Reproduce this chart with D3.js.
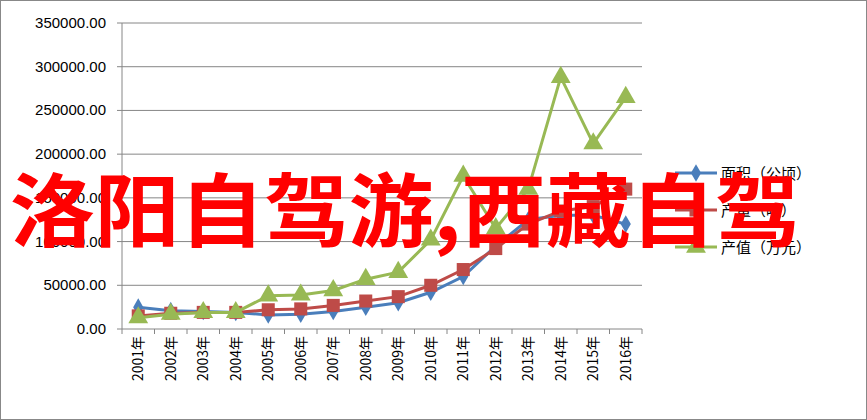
<!DOCTYPE html><html><head><meta charset="utf-8"><script src="https://cdn.jsdelivr.net/npm/d3@7"></script>
<style>body{margin:0;background:#fff}</style></head><body><svg id="c" width="867" height="420"></svg><script>
const years=["2001年","2002年","2003年","2004年","2005年","2006年","2007年","2008年","2009年","2010年","2011年","2012年","2013年","2014年","2015年","2016年"];
const area=[25000,21000,20000,19000,16000,17000,20000,25000,30000,42000,60000,95000,125000,130000,130000,120000];
const output=[15000,18000,19000,19000,22000,23000,27000,32000,37000,50000,68000,92000,120000,135000,140000,160000];
const value=[13000,17000,19000,19000,38000,39000,44000,57000,65000,102000,175000,115000,160000,288000,212000,265000];
const names=["面积（公顷）","产量（吨）","产值（万元）"];
const colors=["#4a7ebb","#be4b48","#98b954"];
const yTicks=[0,50000,100000,150000,200000,250000,300000,350000];
const svg=d3.select("#c");
svg.append("rect").attr("x",0.5).attr("y",0.5).attr("width",866).attr("height",419).attr("fill","none").attr("stroke","#888");
const x=d3.scaleBand().domain(years).range([122,642]);
const y=d3.scaleLinear().domain([0,350000]).range([329,23]);
const g=svg.append("g");
yTicks.forEach(t=>{g.append("line").attr("x1",117).attr("x2",642).attr("y1",y(t)).attr("y2",y(t)).attr("stroke","#868686");
g.append("text").attr("x",106).attr("y",y(t)+5).attr("text-anchor","end").attr("font-family","Liberation Sans, Arial").attr("font-size",15).text(t.toFixed(2));});
g.append("line").attr("x1",122).attr("x2",122).attr("y1",23).attr("y2",329).attr("stroke","#868686");
years.forEach((d,i)=>{const xx=x(d);g.append("line").attr("x1",xx).attr("x2",xx).attr("y1",329).attr("y2",334).attr("stroke","#868686");
g.append("text").attr("transform",`translate(${xx+x.bandwidth()/2+5},336) rotate(-90)`).attr("text-anchor","end").attr("font-family","Noto Sans CJK SC, sans-serif").attr("font-size",14).text(d);});
g.append("line").attr("x1",642).attr("x2",642).attr("y1",329).attr("y2",334).attr("stroke","#868686");
const cx=d=>x(d)+x.bandwidth()/2;
const line=d3.line().x((v,i)=>cx(years[i])).y(v=>y(v));
[area,output,value].forEach((s,k)=>{
svg.append("path").attr("d",line(s)).attr("fill","none").attr("stroke",colors[k]).attr("stroke-width",3);
const sym=[d3.symbolDiamond,d3.symbolSquare,d3.symbolTriangle][k];
svg.selectAll(null).data(s).enter().append("path").attr("d",d3.symbol(sym,k==0?90:170)).attr("transform",(v,i)=>`translate(${cx(years[i])},${y(v)})`).attr("fill",colors[k]);
});
names.forEach((n,k)=>{const ly=173+k*37;
svg.append("line").attr("x1",675).attr("x2",717).attr("y1",ly).attr("y2",ly).attr("stroke",colors[k]).attr("stroke-width",3);
svg.append("path").attr("d",d3.symbol([d3.symbolDiamond,d3.symbolSquare,d3.symbolTriangle][k],k==0?90:170)).attr("transform",`translate(696,${ly})`).attr("fill",colors[k]);
svg.append("text").attr("x",721).attr("y",ly+6).attr("font-family","Noto Sans CJK SC, sans-serif").attr("font-size",15).text(n);});
svg.append("text").attr("x",10).attr("y",240).attr("font-family","Noto Sans CJK SC, sans-serif").attr("font-weight","bold").attr("font-size",80).attr("fill","#ff0000").attr("textLength",790).attr("lengthAdjust","spacingAndGlyphs").text("洛阳自驾游,西藏自驾");
</script></body></html>
